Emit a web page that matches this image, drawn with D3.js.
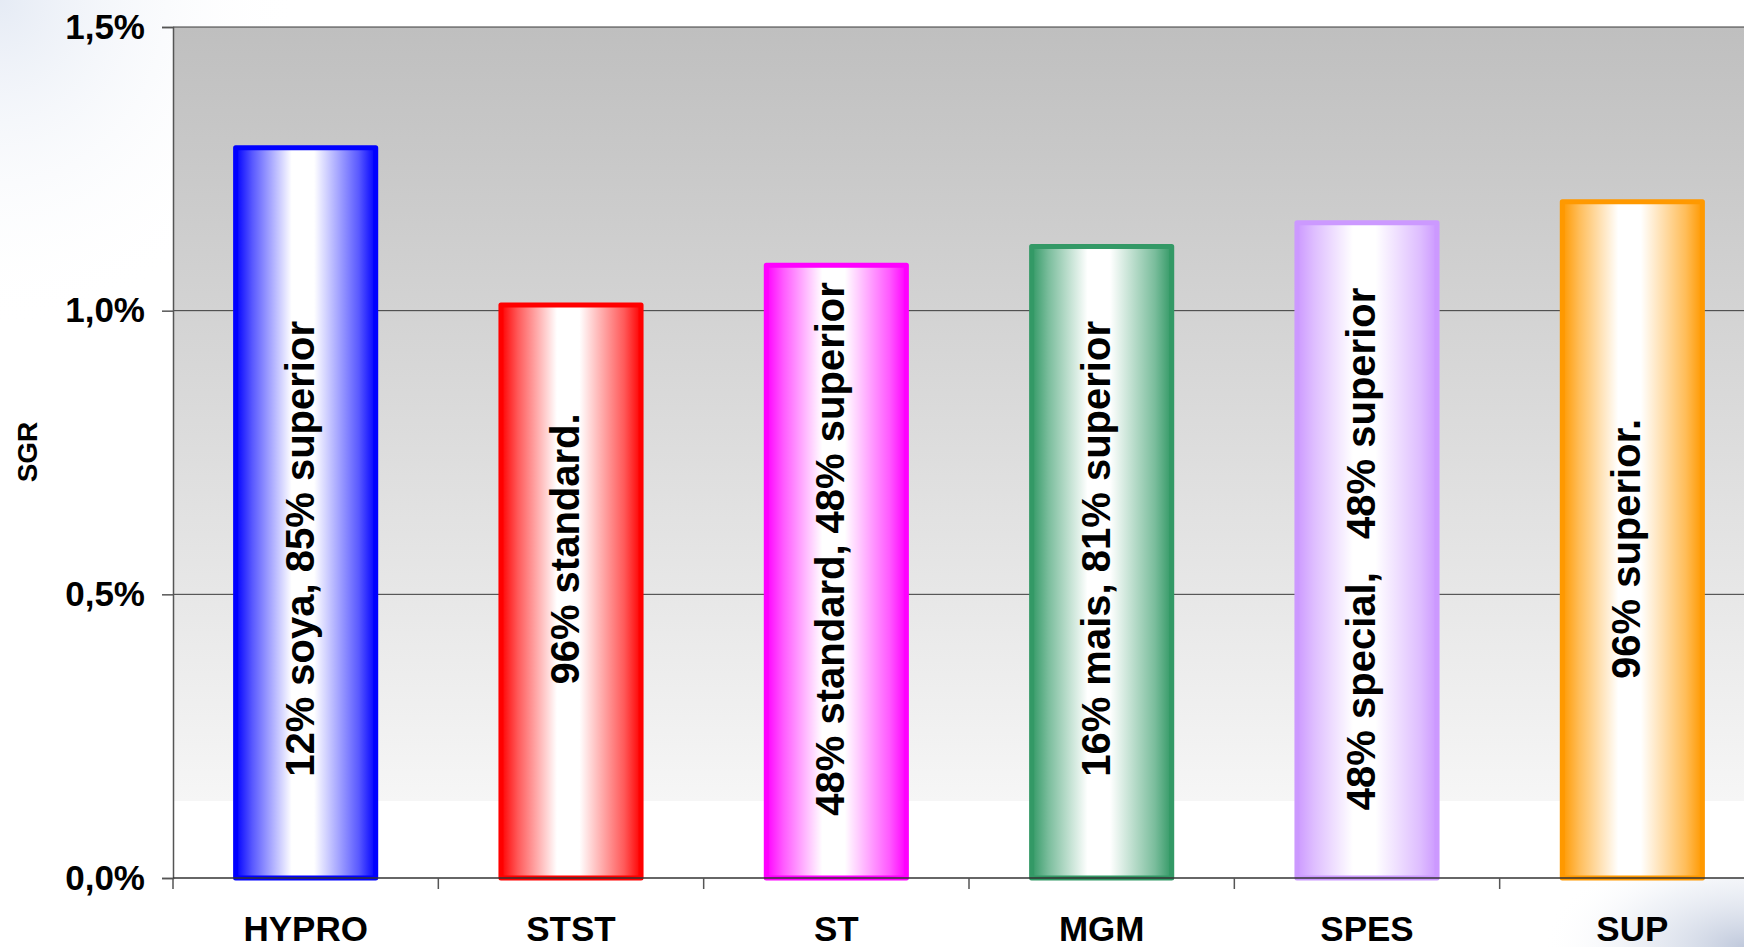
<!DOCTYPE html>
<html>
<head>
<meta charset="utf-8">
<script src="https://cdn.jsdelivr.net/npm/d3@7"></script>
<style>
  html, body { margin: 0; padding: 0; background: #fff; overflow: hidden; }
  text { font-family: "Liberation Sans", Arial, sans-serif; font-weight: bold; fill: #000; }
</style>
</head>
<body>
<div id="chart"></div>
<script>
// data (SGR in %)
const categories = ["HYPRO", "STST", "ST", "MGM", "SPES", "SUP"];
const sgr = [1.287, 1.010, 1.080, 1.113, 1.155, 1.192];
const barLabels = [
  "12% soya, 85% superior",
  "96% standard.",
  "48% standard, 48% superior",
  "16% mais, 81% superior",
  "48% special,   48% superior",
  "96% superior."
];
const barColors = ["#0000ff", "#ff0000", "#ff00ff", "#339966", "#cc99ff", "#ff9900"];
const yTicks = [0, 0.5, 1.0, 1.5];

const width = 1744, height = 947;
const margin = { top: 27, left: 173, bottom: 69 };
const plotRight = 1765; // plot runs a little past the window edge

const svg = d3.select("#chart")
  .append("svg")
  .attr("width", width)
  .attr("height", height);

const defs = svg.append("defs");

// faint cloudy background in the corners
const cloud1 = defs.append("radialGradient").attr("id", "cloudTL").attr("cx", "0").attr("cy", "0").attr("r", "1");
cloud1.append("stop").attr("offset", "0%").attr("stop-color", "#dfe6f2").attr("stop-opacity", 0.8);
cloud1.append("stop").attr("offset", "100%").attr("stop-color", "#ffffff").attr("stop-opacity", 0);
const cloud2 = defs.append("radialGradient").attr("id", "cloudBR").attr("cx", "1").attr("cy", "1").attr("r", "1");
cloud2.append("stop").attr("offset", "0%").attr("stop-color", "#b9c3d8").attr("stop-opacity", 0.9);
cloud2.append("stop").attr("offset", "60%").attr("stop-color", "#e3e8f1").attr("stop-opacity", 0.5);
cloud2.append("stop").attr("offset", "100%").attr("stop-color", "#ffffff").attr("stop-opacity", 0);

svg.append("rect").attr("x", 0).attr("y", 0).attr("width", 300).attr("height", 330).attr("fill", "url(#cloudTL)");
svg.append("rect").attr("x", 1544).attr("y", 840).attr("width", 200).attr("height", 107).attr("fill", "url(#cloudBR)");

// plot background gradient
const bg = defs.append("linearGradient").attr("id", "plotBg")
  .attr("x1", 0).attr("y1", 0).attr("x2", 0).attr("y2", 1);
bg.append("stop").attr("offset", "0%").attr("stop-color", "#bfbfbf");
bg.append("stop").attr("offset", "91%").attr("stop-color", "#f6f6f6");
bg.append("stop").attr("offset", "91%").attr("stop-color", "#ffffff");
bg.append("stop").attr("offset", "100%").attr("stop-color", "#ffffff");

const x = d3.scaleBand()
  .domain(categories)
  .range([margin.left, plotRight])
  .paddingInner(0.472)
  .paddingOuter(0.236);

const y = d3.scaleLinear()
  .domain([0, 1.5])
  .range([height - margin.bottom, margin.top]);

svg.append("rect")
  .attr("x", margin.left)
  .attr("y", y(1.5))
  .attr("width", plotRight - margin.left)
  .attr("height", y(0) - y(1.5))
  .attr("fill", "url(#plotBg)");

// gridlines
svg.append("g")
  .selectAll("line")
  .data(yTicks.filter(d => d > 0))
  .join("line")
  .attr("x1", margin.left)
  .attr("x2", plotRight)
  .attr("y1", d => y(d))
  .attr("y2", d => y(d))
  .attr("stroke", "#3a3a3a")
  .attr("stroke-width", 1);

// bar gradients, one per colour
categories.forEach((c, i) => {
  const g = defs.append("linearGradient").attr("id", "bar" + i)
    .attr("x1", 0).attr("y1", 0).attr("x2", 1).attr("y2", 0);
  g.append("stop").attr("offset", "0%").attr("stop-color", barColors[i]);
  g.append("stop").attr("offset", "12%").attr("stop-color", d3.interpolateRgb(barColors[i], "#fff")(0.35));
  g.append("stop").attr("offset", "40%").attr("stop-color", "#ffffff");
  g.append("stop").attr("offset", "56%").attr("stop-color", "#ffffff");
  g.append("stop").attr("offset", "88%").attr("stop-color", d3.interpolateRgb(barColors[i], "#fff")(0.35));
  g.append("stop").attr("offset", "100%").attr("stop-color", barColors[i]);
});

const bars = svg.append("g")
  .selectAll("g")
  .data(categories.map((c, i) => ({ c, v: sgr[i], label: barLabels[i], i })))
  .join("g");

bars.append("rect")
  .attr("x", d => x(d.c))
  .attr("y", d => y(d.v))
  .attr("width", x.bandwidth())
  .attr("height", d => y(0) - y(d.v))
  .attr("fill", d => `url(#bar${d.i})`)
  .attr("stroke", d => barColors[d.i])
  .attr("stroke-width", 5)
  .attr("stroke-linejoin", "round");

bars.append("text")
  .attr("transform", d => `translate(${x(d.c) + x.bandwidth() / 2},${y(0.58)}) rotate(-90)`)
  .attr("text-anchor", "middle")
  .attr("dy", "0.2em")
  .attr("font-size", 40)
  .style("white-space", "pre")
  .text(d => d.label);

// axes
const fmt = v => d3.format(".1f")(v).replace(".", ",") + "%";

const yAxis = svg.append("g")
  .attr("transform", `translate(${margin.left},0)`)
  .call(d3.axisLeft(y).tickValues(yTicks).tickFormat(fmt).tickSize(11).tickPadding(17));
yAxis.select(".domain").attr("stroke", "#555").attr("stroke-width", 1.5);
yAxis.selectAll(".tick line").attr("stroke", "#555").attr("stroke-width", 1.5);
yAxis.selectAll(".tick text")
  .attr("font-size", 35)
  .attr("font-family", "'Liberation Sans', Arial, sans-serif")
  .attr("font-weight", "bold")
  .attr("fill", "#000");

const xAxis = svg.append("g")
  .attr("transform", `translate(0,${y(0)})`);
xAxis.append("line")
  .attr("x1", margin.left).attr("x2", plotRight)
  .attr("stroke", "#333").attr("stroke-width", 1.5);
xAxis.selectAll("line.tick")
  .data(categories.map(c => x(c) - x.step() * x.paddingInner() / 2).concat([plotRight]))
  .join("line")
  .attr("class", "tick")
  .attr("x1", d => d).attr("x2", d => d)
  .attr("y1", 0).attr("y2", 11)
  .attr("stroke", "#555").attr("stroke-width", 1.5);
xAxis.selectAll("text")
  .data(categories)
  .join("text")
  .attr("x", d => x(d) + x.bandwidth() / 2)
  .attr("y", 63)
  .attr("text-anchor", "middle")
  .attr("font-size", 35)
  .text(d => d);

// y axis title
svg.append("text")
  .attr("transform", `translate(27,452) rotate(-90)`)
  .attr("text-anchor", "middle")
  .attr("dy", "0.36em")
  .attr("font-size", 28)
  .text("SGR");
</script>
</body>
</html>
